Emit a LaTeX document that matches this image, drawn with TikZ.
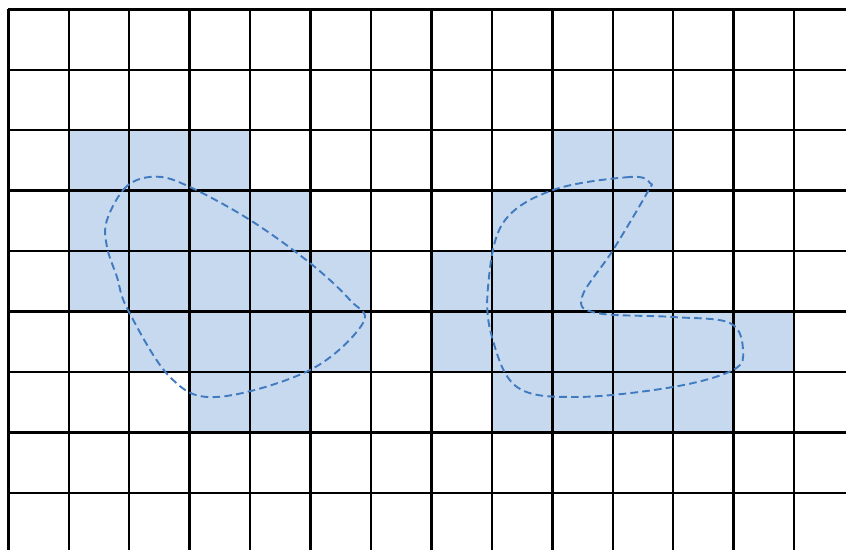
\documentclass[tikz,border=0pt]{standalone}
\usepackage{tikz}
\usetikzlibrary{calc}
\definecolor{cellblue}{RGB}{198,217,238}
\definecolor{curveblue}{RGB}{66,122,192}
\newcommand{\cellrow}[2]{%
  \foreach \col in {#2}{\fill[cellblue] (\col,-#1) rectangle ++(1,-1);}
}

\begin{document}
\begin{tikzpicture}[x=1cm,y=1cm]
    \useasboundingbox (-0.137,0.154) rectangle (13.858,-8.928);
    \clip (-0.137,0.154) rectangle (13.858,-8.928);
    \fill[white] (-0.137,0.154) rectangle (13.858,-8.928);
    % left region
    \cellrow{2}{1,2,3}
    \cellrow{3}{1,2,3,4}
    \cellrow{4}{1,2,3,4,5}
    \cellrow{5}{2,3,4,5}
    \cellrow{6}{3,4}
    % right region
    \cellrow{2}{9,10}
    \cellrow{3}{8,9,10}
    \cellrow{4}{7,8,9}
    \cellrow{5}{7,8,9,10,11,12}
    \cellrow{6}{8,9,10,11}
    % grid
    \foreach \gx in {0,...,14}{\draw[line width=1.15pt] (\gx,0) -- (\gx,-9.5);}
    \foreach \gy in {0,...,9}{\draw[line width=1.15pt] (0,-\gy) -- (14.5,-\gy);}
    % outlines
    \draw[curveblue,line width=0.9pt,dash pattern=on 3.6pt off 2pt]
      plot[smooth cycle,tension=0.6] coordinates {
        (2.455,-2.769) (1.964,-2.923) (1.633,-3.485) (1.633,-3.932)
        (1.798,-4.428) (1.980,-4.974) (2.675,-6.083)
        (3.452,-6.413) (4.991,-5.967) (5.868,-5.190) (5.652,-4.809)
        (4.991,-4.197) (3.998,-3.485) (3.006,-2.940)};
    \draw[curveblue,line width=0.9pt,dash pattern=on 3.6pt off 2pt]
      plot[smooth cycle,tension=0.6] coordinates {
        (10.616,-2.873) (10.285,-2.774) (9.011,-2.989) (8.184,-3.535)
        (7.936,-4.594) (8.002,-5.421) (8.415,-6.248) (9.408,-6.413)
        (10.996,-6.248) (11.989,-5.967) (12.154,-5.636) (11.939,-5.190)
        (10.996,-5.090) (9.739,-5.024) (9.491,-4.759) (10.004,-3.982)
        (10.566,-3.039)};
  \end{tikzpicture}
\end{document}
